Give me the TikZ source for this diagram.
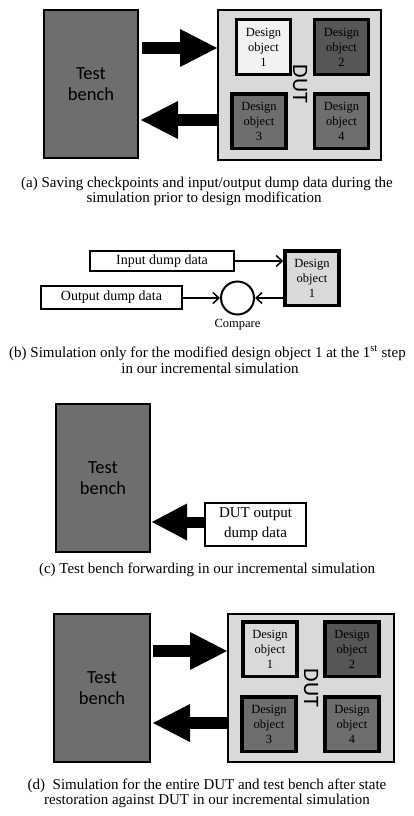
\documentclass[tikz,border=0pt]{standalone}
\usepackage{fontspec}
\setmainfont{Liberation Serif}
\newfontfamily\carlito{Carlito}
\usetikzlibrary{arrows.meta,calc}
\definecolor{tbgray}{RGB}{110,110,110}
\definecolor{darkobj}{RGB}{86,86,86}
\definecolor{dutgray}{RGB}{217,217,217}
\definecolor{lightobj}{RGB}{242,242,242}
\tikzset{
  tbbox/.style={draw=black, line width=2pt, fill=tbgray, inner sep=0pt,
    minimum width=94pt, minimum height=148pt, align=center,
    font=\carlito\fontsize{18.5}{20.5}\selectfont},
  dutbox/.style={draw=black, line width=2pt, fill=dutgray, inner sep=0pt},
  objbox/.style={draw=black, line width=3.5pt, inner sep=0pt,
    minimum width=54pt, minimum height=54.5pt, align=center,
    font=\fontsize{12.5}{15}\selectfont},
  dutlabel/.style={rotate=-90, inner sep=0pt, font=\carlito\fontsize{22}{22}\selectfont},
  databox/.style={draw=black, line width=2pt, fill=white, inner sep=0pt, align=center},
  bigarrow/.style={line width=12.5pt, -{Triangle[length=37pt,width=38pt,line width=0pt]}},
  smallarrow/.style={line width=1.5pt, -{Straight Barb[length=6pt,width=11pt,line width=1.5pt]}},
  caption/.style={anchor=base, inner sep=0pt, font=\fontsize{15}{16}\selectfont},
}
\begin{document}
\begin{tikzpicture}[x=1pt,y=-1pt]
\fill[white] (0,0) rectangle (414,816);
\useasboundingbox (0,0) rectangle (414,816);

% ---------- (a) ----------
\node[tbbox] (tbA) at (91,84) {Test\\bench};
\node[dutbox, minimum width=163pt, minimum height=150pt] (dutA) at (299.5,85) {};
\node[objbox, fill=lightobj] (oA1) at (263.5,47) {Design\\object\\1};
\node[objbox, fill=darkobj] (oA2) at (341.5,47) {Design\\object\\2};
\node[objbox, fill=tbgray] (oA3) at (259,121) {Design\\object\\3};
\node[objbox, fill=tbgray] (oA4) at (341.5,121) {Design\\object\\4};
\node[dutlabel] (dA) at (300,84) {DUT};
\coordinate (rA1) at (0,48);
\coordinate (rA2) at (0,120);
\draw[bigarrow] ([xshift=3pt]tbA.east |- rA1) -- (dutA.west |- rA1);
\draw[bigarrow] (dutA.west |- rA2) -- ([xshift=2pt]tbA.east |- rA2);
\node[caption] (capA1) at (207,187) {(a) Saving checkpoints and input/output dump data during the};
\node[caption] (capA2) at (204,202) {simulation prior to design modification};

% ---------- (b) ----------
\node[databox, minimum width=144pt, minimum height=20pt, font=\fontsize{14}{16}\selectfont] (inB) at (162,261) {Input dump data};
\node[databox, minimum width=141pt, minimum height=23pt, font=\fontsize{14}{16}\selectfont] (outB) at (111.5,297.5) {Output dump data};
\node[objbox, fill=dutgray] (oB) at (312,278) {Design\\object\\1};
\node[draw=black, line width=2pt, circle, minimum size=33pt, inner sep=0pt] (cmp) at (237.5,298) {};
\node[inner sep=0pt, font=\fontsize{12.5}{14}\selectfont] (cmpl) at (237.5,325) {Compare};
\draw[smallarrow] (inB.east) -- (inB.east -| oB.west);
\draw[smallarrow] (outB.east |- cmp.west) -- (cmp.west);
\draw[smallarrow] (oB.west |- cmp.east) -- (cmp.east);
\node[caption] (capB1) at (207.5,357) {(b) Simulation only for the modified design object 1 at the 1\textsuperscript{st} step};
\node[caption] (capB2) at (210,373) {in our incremental simulation};

% ---------- (c) ----------
\node[tbbox] (tbC) at (103,478) {Test\\bench};
\node[databox, minimum width=101pt, minimum height=43pt, font=\fontsize{15}{20}\selectfont] (dodC) at (255.5,524.5) {DUT output\\dump data};
\coordinate (rC) at (0,522);
\draw[bigarrow, line width=11pt, -{Triangle[length=35pt,width=37pt,line width=0pt]}] (dodC.west |- rC) -- ([xshift=1pt]tbC.east |- rC);
\node[caption] (capC) at (207,573) {(c) Test bench forwarding in our incremental simulation};

% ---------- (d) ----------
\node[tbbox, minimum width=96pt] (tbD) at (102,688) {Test\\bench};
\node[dutbox, minimum width=166pt, minimum height=148pt] (dutD) at (311,688) {};
\node[objbox, fill=dutgray] (oD1) at (270,649) {Design\\object\\1};
\node[objbox, fill=darkobj] (oD2) at (352,649) {Design\\object\\2};
\node[objbox, fill=tbgray] (oD3) at (269,724) {Design\\object\\3};
\node[objbox, fill=tbgray] (oD4) at (352,724) {Design\\object\\4};
\node[dutlabel] (dD) at (311,688) {DUT};
\coordinate (rD1) at (0,651);
\coordinate (rD2) at (0,723);
\draw[bigarrow] ([xshift=2pt]tbD.east |- rD1) -- (dutD.west |- rD1);
\draw[bigarrow] (dutD.west |- rD2) -- ([xshift=2pt]tbD.east |- rD2);
\node[caption] (capD1) at (207,789) {(d)\ \ Simulation for the entire DUT and test bench after state};
\node[caption] (capD2) at (207,804) {restoration against DUT in our incremental simulation};
\end{tikzpicture}
\end{document}
